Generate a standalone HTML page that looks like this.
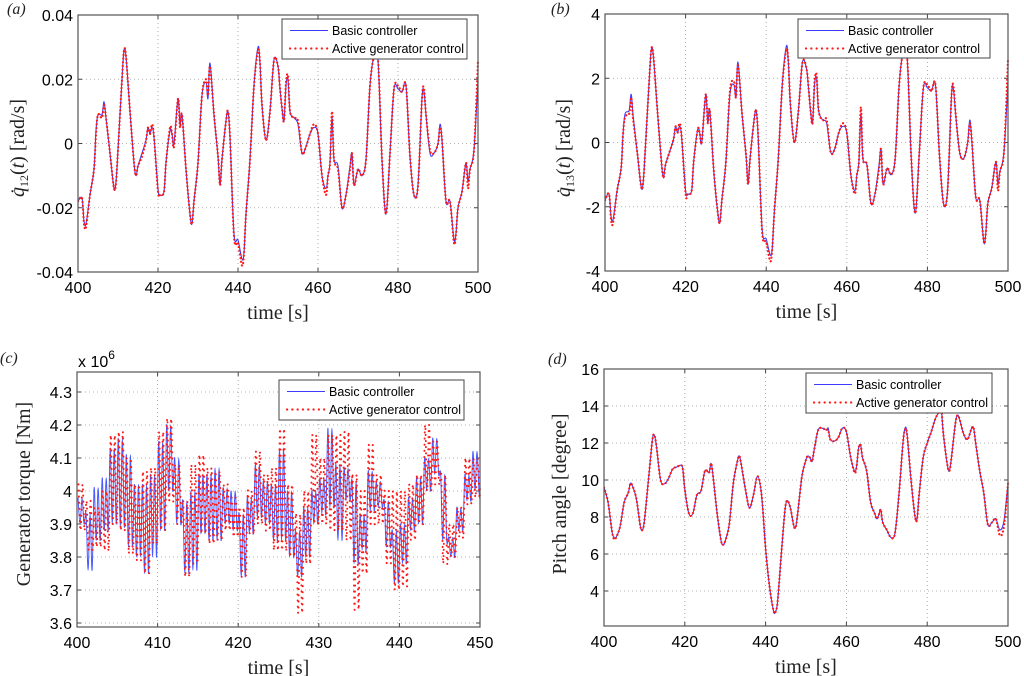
<!DOCTYPE html>
<html><head><meta charset="utf-8">
<style>
html,body{margin:0;padding:0;background:#fff;}
svg{display:block;}
.tk{font-family:"Liberation Sans",sans-serif;font-size:16px;fill:#000;}
.ti{font-family:"Liberation Serif",serif;font-size:20px;fill:#222;}
.lg{font-family:"Liberation Sans",sans-serif;font-size:12.5px;fill:#000;}
.pl{font-family:"Liberation Serif",serif;font-style:italic;font-size:16px;fill:#222;}
</style></head>
<body>
<svg id="fig" width="1024" height="676" viewBox="0 0 1024 676" xmlns="http://www.w3.org/2000/svg"></svg>
<script>
// ---- Panel (a): q12 dot, values in 1e-2 rad/s ----
const timeAB = [400,401,401.5,402,403,404,404.5,405,406,406.5,407,408,409,409.5,410,411,411.5,412,413,414,414.5,415,416,417,417.5,418,418.5,419,420,420.5,421.5,422,423,423.5,424,425,425.5,426,427,428,428.5,429,430,431,432,432.5,433,434,435,435.5,436,437,437.5,438,439,440,441,441.5,442,443,444,445,445.5,446,447,448,449,450,450.5,451,451.5,452,452.5,453,454,455,456,457,458,459,460,461,462,462.5,463,463.5,464,465,466,467,468,468.5,469,470,471,472,473,474,475,476,477,478,479,480,481,482,483,484,485,486,486.5,487,488,489,490,490.5,491,492,493,494,494.5,495,496,497,497.5,498,499,500];
const q12Basic = [-1.8,-1.7,-2.4,-2.5,-1.6,-0.8,0.4,0.9,0.9,1.3,0.8,-0.3,-1.4,-1.2,-0.2,2.0,2.9,2.7,1.0,-0.6,-1.0,-0.7,-0.3,0.1,0.5,0.3,0.5,0.2,-1.4,-1.6,-1.5,-0.6,0.4,0.3,0.0,1.4,0.6,0.9,-0.8,-2.2,-2.5,-1.8,-0.6,1.5,1.9,1.4,2.5,0.9,-0.4,-1.3,-0.5,0.7,1.0,0.2,-2.8,-3.0,-3.6,-3.4,-2.2,-0.5,1.8,3.0,2.5,1.2,0.1,1.0,2.6,2.4,1.7,1.1,0.7,1.8,2.0,1.0,0.8,0.6,-0.3,-0.1,0.3,0.5,0.3,-1.0,-1.4,-1.0,-0.6,0.8,-0.5,-0.7,-2.0,-1.6,-0.7,-0.3,-1.3,-0.8,-1.0,-0.5,1.8,2.7,2.6,-0.5,-2.2,-0.3,1.7,1.7,1.6,1.8,-0.4,-1.6,-1.3,1.4,1.6,0.9,-0.3,-0.3,0.0,0.6,0.1,-1.8,-1.8,-3.0,-2.8,-2.0,-1.5,-0.6,-1.2,-0.8,-0.2,2.0];
const q12Active = [-1.8,-1.7,-2.5,-2.6,-1.6,-0.8,0.3,0.9,0.8,1.2,0.8,-0.3,-1.4,-1.2,-0.2,2.0,2.9,2.7,1.0,-0.6,-1.0,-0.7,-0.4,0.1,0.5,0.3,0.6,0.2,-1.5,-1.6,-1.5,-0.6,0.5,0.3,-0.1,1.4,0.5,0.9,-0.8,-2.2,-2.5,-1.8,-0.6,1.5,2.0,1.5,2.4,0.9,-0.4,-1.3,-0.5,0.7,1.0,0.2,-2.9,-3.1,-3.8,-3.4,-2.2,-0.5,1.8,2.9,2.5,1.2,0.1,1.0,2.6,2.4,1.7,1.1,0.7,1.9,2.1,1.0,0.8,0.7,-0.3,-0.1,0.3,0.6,0.3,-1.0,-1.6,-1.0,-0.6,1.0,-0.5,-0.8,-2.0,-1.6,-0.8,-0.3,-1.3,-0.8,-1.0,-0.5,1.8,2.7,2.6,-0.5,-2.2,-0.3,1.7,1.8,1.6,1.8,-0.4,-1.6,-1.3,1.4,1.7,0.9,-0.2,-0.3,0.0,0.5,0.1,-1.8,-1.8,-3.1,-2.8,-2.0,-1.5,-0.6,-1.4,-0.8,-0.2,2.6];
// ---- Panel (b): q13 dot, rad/s ----
const q13Basic = [-1.8,-1.6,-2.3,-2.4,-1.5,-0.8,0.3,0.9,1.0,1.5,0.8,-0.3,-1.4,-1.2,-0.2,2.0,2.9,2.7,1.0,-0.6,-1.1,-0.7,-0.3,0.1,0.5,0.3,0.5,0.2,-1.5,-1.6,-1.5,-0.6,0.4,0.3,0.0,1.5,0.6,1.0,-0.9,-2.2,-2.5,-1.8,-0.6,1.5,1.8,1.4,2.5,0.9,-0.4,-1.3,-0.5,0.7,1.0,0.2,-2.7,-3.0,-3.5,-3.3,-2.2,-0.5,1.8,3.0,2.5,1.2,0.0,1.0,2.5,2.3,1.7,1.0,0.6,1.8,2.0,1.0,0.7,0.6,-0.3,-0.2,0.3,0.5,0.3,-1.0,-1.5,-1.0,-0.6,0.9,-0.5,-0.7,-1.9,-1.6,-0.7,-0.2,-1.3,-0.8,-1.0,-0.5,1.8,2.8,2.6,-0.5,-2.2,-0.3,1.7,1.7,1.6,1.8,-0.4,-1.9,-1.5,1.5,1.6,0.9,-0.3,-0.5,0.0,0.7,0.1,-1.7,-1.8,-3.1,-2.8,-1.9,-1.4,-0.6,-1.3,-0.9,-0.3,1.9];
const q13Active = [-1.8,-1.6,-2.4,-2.5,-1.5,-0.8,0.3,0.8,0.9,1.4,0.7,-0.3,-1.4,-1.2,-0.2,2.0,2.9,2.7,1.0,-0.6,-1.1,-0.7,-0.3,0.1,0.5,0.3,0.6,0.2,-1.6,-1.6,-1.5,-0.6,0.4,0.3,0.0,1.5,0.6,1.0,-0.9,-2.2,-2.5,-1.8,-0.6,1.6,1.9,1.4,2.4,0.9,-0.4,-1.3,-0.5,0.7,1.0,0.2,-2.8,-3.1,-3.7,-3.3,-2.2,-0.5,1.8,2.9,2.5,1.2,0.0,1.0,2.5,2.3,1.7,1.0,0.6,1.9,2.1,1.0,0.7,0.7,-0.3,-0.2,0.3,0.6,0.3,-1.0,-1.6,-1.0,-0.6,1.1,-0.5,-0.7,-1.9,-1.6,-0.8,-0.2,-1.3,-0.8,-1.0,-0.5,1.8,2.8,2.6,-0.5,-2.2,-0.3,1.7,1.8,1.6,1.8,-0.4,-1.9,-1.5,1.5,1.7,0.9,-0.3,-0.5,0.0,0.6,0.1,-1.7,-1.8,-3.1,-2.8,-1.9,-1.4,-0.6,-1.5,-0.9,-0.3,2.6];
// ---- Panel (c): generator torque, x 1e6 Nm; per-second oscillation highs/lows ----
const timeC = [400,401,402,403,404,405,406,407,408,409,410,411,412,413,414,415,416,417,418,419,420,421,422,423,424,425,426,427,428,429,430,431,432,433,434,435,436,437,438,439,440,441,442,443,444,445,446,447,448,449,450];
const torqueBasicHigh = [3.98,3.93,4.01,4.04,4.13,4.16,4.11,4.02,4.02,4.05,4.15,4.20,4.10,3.97,4.00,4.05,4.05,4.07,4.01,4.00,3.93,3.98,4.08,4.03,4.02,4.13,4.00,3.88,3.95,4.00,4.04,4.19,4.08,4.07,4.03,3.93,4.06,4.03,3.97,3.88,3.90,3.98,4.04,4.10,4.16,4.05,3.86,3.95,4.05,4.12,4.00];
const torqueBasicLow = [3.90,3.76,3.85,3.88,3.90,3.89,3.83,3.80,3.75,3.80,3.88,4.00,3.90,3.75,3.76,3.87,3.85,3.85,3.90,3.88,3.74,3.87,3.92,3.90,3.85,3.85,3.80,3.74,3.80,3.90,3.93,3.95,3.85,3.97,3.78,3.82,3.94,3.95,3.83,3.72,3.78,3.88,3.90,4.00,4.05,3.85,3.80,3.88,3.97,4.00,3.95];
const torqueActiveHigh = [4.02,3.97,3.95,4.00,4.17,4.18,4.10,4.02,4.06,4.07,4.18,4.22,4.08,3.97,4.08,4.11,4.07,4.06,4.02,3.98,3.95,4.00,4.12,4.05,4.07,4.19,4.02,3.93,4.00,4.17,4.10,4.17,4.17,4.18,4.05,4.00,4.14,4.05,4.00,4.00,4.00,4.02,4.05,4.20,4.15,4.05,3.90,3.95,4.10,4.10,4.05];
const torqueActiveLow = [3.88,3.82,3.83,3.82,3.90,3.88,3.81,3.79,3.75,3.84,3.88,3.97,3.90,3.74,3.78,3.87,3.84,3.85,3.88,3.86,3.74,3.87,3.90,3.88,3.82,3.82,3.80,3.63,3.78,3.90,3.90,3.88,3.88,3.85,3.64,3.75,3.90,3.90,3.78,3.70,3.71,3.85,3.90,4.00,4.02,3.78,3.80,3.86,3.96,3.98,3.97];
// ---- Panel (d): pitch angle, degrees ----
const timeD = [400,401,402,402.5,403,404,405,406,406.5,407,408,409,409.5,410,411,412,412.5,413,414,415,416,417,418,419,419.5,420,421,422,423,424,425,426,426.5,427,428,429,429.5,430,431,432,433,433.5,434,435,436,437,438,439,440,441,442,442.5,443,444,445,446,447,447.5,448,449,450,450.5,451,451.5,452,453,454,455,455.5,456,457,458,459,460,461,462,462.5,463,463.5,464,465,466,467,467.5,468,468.5,469,470,471,472,473,474,474.5,475,476,477,477.5,478,479,480,481,482,483,483.5,484,485,485.5,486,487,487.5,488,489,490,491,491.5,492,493,494,495,496,497,498,499,500];
const pitchBasic = [9.6,8.8,7.2,6.9,6.9,7.5,8.8,9.3,9.8,9.7,9.0,7.5,7.3,7.8,10.0,12.2,12.4,11.8,10.0,9.8,10.1,10.6,10.7,10.8,10.6,9.5,8.2,8.2,9.2,9.4,10.5,10.4,10.9,10.2,8.2,6.7,6.5,6.7,7.6,9.8,11.0,11.3,10.8,9.5,8.5,9.2,10.2,9.2,6.3,4.2,2.9,2.9,3.5,6.3,8.7,8.6,7.5,7.5,8.3,10.2,11.1,11.3,11.2,11.0,11.6,12.7,12.8,12.7,12.8,12.2,12.1,12.3,12.8,12.6,11.3,10.5,10.7,11.7,11.9,11.2,10.5,8.8,8.2,7.9,8.1,8.4,7.7,7.3,6.9,7.1,9.2,12.0,12.8,12.5,10.0,8.0,7.9,9.2,11.2,12.0,12.6,13.3,13.7,13.8,12.5,10.8,10.5,11.2,13.1,13.5,13.3,12.5,12.2,12.8,12.8,12.0,10.5,9.3,7.6,7.7,7.9,7.3,7.8,9.8];
const pitchActive = [9.6,8.8,7.2,6.8,6.9,7.5,8.8,9.3,9.8,9.7,9.0,7.5,7.3,7.8,10.0,12.2,12.4,11.8,10.0,9.8,10.1,10.6,10.7,10.8,10.6,9.5,8.2,8.2,9.2,9.4,10.5,10.4,10.9,10.2,8.2,6.7,6.5,6.7,7.6,9.8,11.0,11.3,10.8,9.5,8.5,9.2,10.2,9.2,6.3,4.2,2.9,2.9,3.5,6.3,8.7,8.6,7.5,7.5,8.3,10.2,11.1,11.3,11.2,11.0,11.6,12.7,12.8,12.7,12.7,12.2,12.1,12.3,12.8,12.6,11.3,10.4,10.7,11.7,11.9,11.2,10.5,8.8,8.2,7.9,8.1,8.4,7.7,7.3,6.9,7.1,9.2,12.0,12.7,12.5,10.0,8.0,7.9,9.2,11.2,12.0,12.6,13.3,13.7,13.8,12.5,10.8,10.5,11.2,13.1,13.5,13.3,12.5,12.2,12.8,12.8,12.0,10.5,9.3,7.6,7.7,7.9,7.0,7.5,9.8];
const ticksAB_x = [400,420,440,460,480,500];
const ticksC_x = [400,410,420,430,440,450];
const ticksA_y = [4,2,0,-2,-4];
const labelsA_y = ["0.04","0.02","0","-0.02","-0.04"];
const ticksB_y = [4,2,0,-2,-4];
const ticksC_y = [4.3,4.2,4.1,4.0,3.9,3.8,3.7,3.6];
const labelsC_y = ["4.3","4.2","4.1","4","3.9","3.8","3.7","3.6"];
const ticksD_y = [16,14,12,10,8,6,4];

const NS = "http://www.w3.org/2000/svg";
const svg = document.getElementById('fig');
function mk(tag, attrs, parent){
  const e = document.createElementNS(NS, tag);
  for (const k in attrs) e.setAttribute(k, attrs[k]);
  (parent||svg).appendChild(e);
  return e;
}
function smoothPath(pts){
  let d = "M" + pts[0][0].toFixed(2) + "," + pts[0][1].toFixed(2);
  for (let i=0;i<pts.length-1;i++){
    const p0=pts[Math.max(0,i-1)], p1=pts[i], p2=pts[i+1], p3=pts[Math.min(pts.length-1,i+2)];
    const c1x=p1[0]+(p2[0]-p0[0])/6, c1y=p1[1]+(p2[1]-p0[1])/6;
    const c2x=p2[0]-(p3[0]-p1[0])/6, c2y=p2[1]-(p3[1]-p1[1])/6;
    d += " C"+c1x.toFixed(2)+","+c1y.toFixed(2)+" "+c2x.toFixed(2)+","+c2y.toFixed(2)+" "+p2[0].toFixed(2)+","+p2[1].toFixed(2);
  }
  return d;
}
function linePath(pts){ return "M" + pts.map(p=>p[0].toFixed(2)+","+p[1].toFixed(2)).join(" L"); }

function panel(cfg){
  const g = mk('g', {});
  
  
  const sx = v => cfg.x0 + (v-cfg.xd[0])/(cfg.xd[1]-cfg.xd[0])*(cfg.x1-cfg.x0);
  const sy = v => cfg.y1 - (v-cfg.yd[0])/(cfg.yd[1]-cfg.yd[0])*(cfg.y1-cfg.y0);
  cfg.xt.forEach(v=>{
    const X=sx(v);
    const gl = mk('line',{x1:X,x2:X,y1:cfg.y0,y2:cfg.y1,stroke:'#9a9a9a','stroke-width':0.8,'stroke-dasharray':'1 3'},g);
    
    
    mk('line',{x1:X,x2:X,y1:cfg.y1,y2:cfg.y1-4,stroke:'#444','stroke-width':1},g);
    mk('line',{x1:X,x2:X,y1:cfg.y0,y2:cfg.y0+4,stroke:'#444','stroke-width':1},g);
    const t = mk('text',{x:X,y:cfg.y1+21,'text-anchor':'middle',class:'tk'},g);
    t.textContent = String(v);
    
    
  });
  cfg.yt.forEach((v,i)=>{
    const Y=sy(v);
    const gl = mk('line',{x1:cfg.x0,x2:cfg.x1,y1:Y,y2:Y,stroke:'#9a9a9a','stroke-width':0.8,'stroke-dasharray':'1 3'},g);
    
    
    mk('line',{x1:cfg.x0,x2:cfg.x0+4,y1:Y,y2:Y,stroke:'#444','stroke-width':1},g);
    mk('line',{x1:cfg.x1,x2:cfg.x1-4,y1:Y,y2:Y,stroke:'#444','stroke-width':1},g);
    const t = mk('text',{x:cfg.x0-5,y:Y+6,'text-anchor':'end',class:'tk'},g);
    t.textContent = cfg.yl ? cfg.yl[i] : String(v);
    
    
  });
  const clipId = 'clip-'+cfg.name;
  const cp = mk('clipPath',{id:clipId},g);
  mk('rect',{x:cfg.x0,y:cfg.y0-6,width:cfg.x1-cfg.x0+3,height:cfg.y1-cfg.y0+12},cp);
  const ptsB = cfg.pointsBasic(sx,sy), ptsA = cfg.pointsActive(sx,sy);
  const dB = cfg.smooth ? smoothPath(ptsB) : linePath(ptsB);
  const dA = cfg.smooth ? smoothPath(ptsA) : linePath(ptsA);
  const pb = mk('path',{d:dB,fill:'none',stroke:cfg.blue||'#3a3cff','stroke-width':cfg.bw||1.1,'stroke-linejoin':'round','clip-path':'url(#'+clipId+')'},g);
  
  
  const pa = mk('path',{d:dA,fill:'none',stroke:'#ff1a1a','stroke-width':cfg.rw||2.2,'stroke-linecap':'round','stroke-dasharray':cfg.dash||'0.1 3.6','clip-path':'url(#'+clipId+')'},g);
  
  
  const fr = mk('rect',{x:cfg.x0,y:cfg.y0,width:cfg.x1-cfg.x0,height:cfg.y1-cfg.y0,fill:'none',stroke:'#555','stroke-width':1.2},g);
  
  
  const L = cfg.leg;
  const lg = mk('g',{},g);
  
  
  mk('rect',{x:L[0],y:L[1],width:L[2]-L[0],height:L[3]-L[1],fill:'#fff',stroke:'#444','stroke-width':1},lg);
  const r1 = L[1]+11.5, r2 = L[1]+29.5;
  const e1 = mk('line',{x1:L[0]+8,x2:L[0]+46,y1:r1,y2:r1,stroke:'#3a3cff','stroke-width':1.1},lg);
  
  
  const t1 = mk('text',{x:L[0]+50,y:r1+4.5,class:'lg'},lg);
  t1.textContent='Basic controller';
  
  
  const e2 = mk('line',{x1:L[0]+8,x2:L[0]+46,y1:r2,y2:r2,stroke:'#ff1a1a','stroke-width':2.2,'stroke-linecap':'round','stroke-dasharray':'0.1 5.2'},lg);
  
  
  const t2 = mk('text',{x:L[0]+50,y:r2+4.5,class:'lg'},lg);
  t2.textContent='Active generator control';
  
  
  const xt = mk('text',{x:(cfg.x0+cfg.x1)/2,y:cfg.y1+47,'text-anchor':'middle',class:'ti'},g);
  xt.textContent='time [s]';
  
  
  const pl = mk('text',{x:cfg.pl[0],y:cfg.pl[1],class:'pl'},g);
  pl.textContent='('+cfg.letter+')';
  
  
  return g;
}
function zip(ts, vs, sx, sy){ return ts.map((t,i)=>[sx(t), sy(vs[i])]); }
function zigzag(ts, hi, lo, sx, sy, ph){
  const pts=[];
  ts.forEach((t,i)=>{
    if (t >= 450) { pts.push([sx(t), sy((hi[i]+lo[i])/2)]); return; }
    pts.push([sx(t+0.125+ph), sy(hi[i])]);
    pts.push([sx(t+0.375+ph), sy(lo[i])]);
    pts.push([sx(t+0.625+ph), sy(hi[i])]);
    pts.push([sx(t+0.875+ph), sy(lo[i])]);
  });
  return pts;
}

panel({name:'panel-a-q12',letter:'a',x0:78,x1:478,y0:15,y1:272,xd:[400,500],yd:[-4,4],xt:ticksAB_x,yt:ticksA_y,yl:labelsA_y,smooth:true,
  pointsBasic:(sx,sy)=>zip(timeAB,q12Basic,sx,sy),pointsActive:(sx,sy)=>zip(timeAB,q12Active,sx,sy),
  leg:[282,19,467,59],pl:[7,14]});
panel({name:'panel-b-q13',letter:'b',x0:605,x1:1008,y0:14,y1:271,xd:[400,500],yd:[-4,4],xt:ticksAB_x,yt:ticksB_y,smooth:true,
  pointsBasic:(sx,sy)=>zip(timeAB,q13Basic,sx,sy),pointsActive:(sx,sy)=>zip(timeAB,q13Active,sx,sy),
  leg:[798,19,990,58],pl:[551,14]});
panel({name:'panel-c-torque',letter:'c',x0:77,x1:480,y0:372,y1:627,xd:[400,450],yd:[3.5879,4.3606],xt:ticksC_x,yt:ticksC_y,yl:labelsC_y,smooth:true,
  blue:'#4a5cff',bw:1.0,rw:2.0,dash:'0.1 6',
  pointsBasic:(sx,sy)=>zigzag(timeC,torqueBasicHigh,torqueBasicLow,sx,sy,0),pointsActive:(sx,sy)=>zigzag(timeC,torqueActiveHigh,torqueActiveLow,sx,sy,0.06),
  leg:[279,380,464,420],pl:[0,363]});
panel({name:'panel-d-pitch',letter:'d',x0:604,x1:1008,y0:369,y1:626,xd:[400,500],yd:[2.108,16],xt:ticksAB_x,yt:ticksD_y,smooth:true,
  pointsBasic:(sx,sy)=>zip(timeD,pitchBasic,sx,sy),pointsActive:(sx,sy)=>zip(timeD,pitchActive,sx,sy),
  leg:[806,373,992,413],pl:[548,364]});

function ytitle(x,y,html,name){
  const t = mk('text',{x:0,y:0,'text-anchor':'middle',class:'ti',transform:'translate('+x+','+y+') rotate(-90)'});
  t.innerHTML = html;
  
  
}
ytitle(24,148,'<tspan font-style="italic">q̇</tspan><tspan font-size="12" dy="4">12</tspan><tspan dy="-4">(</tspan><tspan font-style="italic">t</tspan>) [rad/s]','y-axis-title-a');
ytitle(570,148,'<tspan font-style="italic">q̇</tspan><tspan font-size="12" dy="4">13</tspan><tspan dy="-4">(</tspan><tspan font-style="italic">t</tspan>) [rad/s]','y-axis-title-b');
ytitle(30,494,'Generator torque [Nm]','y-axis-title-c');
ytitle(566,494,'Pitch angle [degree]','y-axis-title-d');
const ex = mk('text',{x:78,y:367,class:'tk'});
ex.innerHTML = 'x 10<tspan font-size="12" dy="-8">6</tspan>';


</script>
</body></html>
